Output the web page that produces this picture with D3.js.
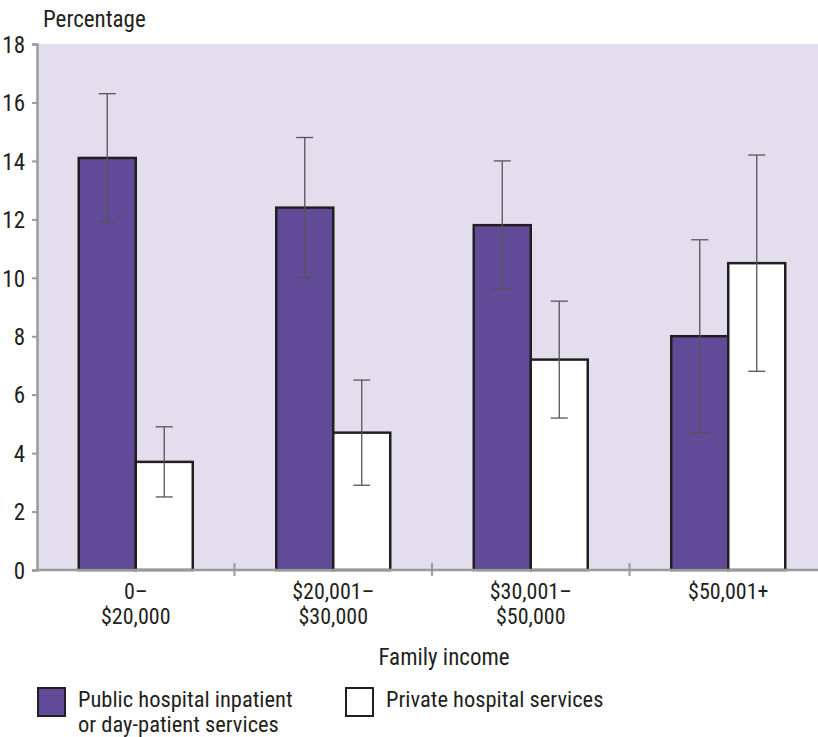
<!DOCTYPE html>
<html><head><meta charset="utf-8">
<script src="https://cdn.jsdelivr.net/npm/d3@7"></script>
<style>
body{margin:0;background:#fff;}
text{font-family:"Liberation Sans Narrow","Roboto Condensed","Arial Narrow",sans-serif;fill:#231f20;}
</style></head><body>
<svg id="c" width="818" height="737"></svg>
<script>
const categories = ["0–|$20,000", "$20,001–|$30,000", "$30,001–|$50,000", "$50,001+"];
const seriesNames = ["Public hospital inpatient|or day-patient services", "Private hospital services"];
const publicVals = [14.1, 12.4, 11.8, 8.0];
const publicLow  = [11.9, 10.0, 9.6, 4.7];
const publicHigh = [16.3, 14.8, 14.0, 11.3];
const privateVals = [3.7, 4.7, 7.2, 10.5];
const privateLow  = [2.5, 2.9, 5.2, 6.8];
const privateHigh = [4.9, 6.5, 9.2, 14.2];
const yTicks = [0, 2, 4, 6, 8, 10, 12, 14, 16, 18];

const svg = d3.select("#c");
const x = d3.scaleBand().domain(categories).range([37, 827]).paddingInner(0).paddingOuter(0);
const y = d3.scaleLinear().domain([0, 18]).range([570, 44]);
const barW = 57;
const colors = ["#614a97", "#ffffff"];

svg.append("rect").attr("x", 37).attr("y", 44).attr("width", 818 - 37).attr("height", 570 - 44).attr("fill", "#e2deed");

const series = [
  {vals: publicVals, lo: publicLow, hi: publicHigh},
  {vals: privateVals, lo: privateLow, hi: privateHigh}
];

series.forEach((s, si) => {
  const g = svg.append("g");
  categories.forEach((c, i) => {
    const cx = x(c) + x.bandwidth() / 2;
    const bx = cx + (si === 0 ? -barW : 0);
    g.append("rect").attr("x", bx).attr("y", y(s.vals[i])).attr("width", barW).attr("height", y(0) - y(s.vals[i]))
      .attr("fill", colors[si]).attr("stroke", "#231f20").attr("stroke-width", 2.5);
  });
});
series.forEach((s, si) => {
  categories.forEach((c, i) => {
    const cx = x(c) + x.bandwidth() / 2;
    const ex = cx + (si === 0 ? -barW / 2 : barW / 2);
    const g = svg.append("g").attr("stroke", "#555").attr("stroke-width", 1.3);
    g.append("line").attr("x1", ex).attr("x2", ex).attr("y1", y(s.lo[i])).attr("y2", y(s.hi[i]));
    g.append("line").attr("x1", ex - 8.5).attr("x2", ex + 8.5).attr("y1", y(s.lo[i])).attr("y2", y(s.lo[i]));
    g.append("line").attr("x1", ex - 8.5).attr("x2", ex + 8.5).attr("y1", y(s.hi[i])).attr("y2", y(s.hi[i]));
  });
});

// Y axis
const yAxis = svg.append("g").attr("transform", "translate(37,0)")
  .call(d3.axisLeft(y).tickValues(yTicks).tickSize(5).tickPadding(7));
yAxis.select(".domain").attr("stroke", "#9a9a9a").attr("stroke-width", 2.5);
yAxis.selectAll(".tick line").attr("stroke", "#9a9a9a").attr("stroke-width", 2);
yAxis.selectAll(".tick text").style("font-size", "23px").attr("fill", "#231f20").attr("dy", "0.36em");

// X axis line
svg.append("line").attr("x1", 37).attr("x2", 818).attr("y1", 570).attr("y2", 570).attr("stroke", "#9a9a9a").attr("stroke-width", 2.5);
categories.slice(1).forEach(c => {
  svg.append("line").attr("x1", x(c)).attr("x2", x(c)).attr("y1", 563).attr("y2", 576).attr("stroke", "#9a9a9a").attr("stroke-width", 2);
});
categories.forEach(c => {
  const cx = x(c) + x.bandwidth() / 2;
  c.split("|").forEach((ln, k) => svg.append("text").attr("text-anchor", "middle").style("font-size", "22px")
    .attr("x", cx).attr("y", 599 + k * 25).text(ln));
});

svg.append("text").attr("x", 43).attr("y", 27).style("font-size", "23px").text("Percentage");
svg.append("text").attr("x", 444).attr("y", 665).attr("text-anchor", "middle").style("font-size", "23px").text("Family income");

// Legend
const legX = [37, 345];
seriesNames.forEach((n, i) => {
  svg.append("rect").attr("x", legX[i] + 1).attr("y", 688).attr("width", 27).attr("height", 28)
    .attr("fill", colors[i]).attr("stroke", "#231f20").attr("stroke-width", 2);
  n.split("|").forEach((ln, k) => svg.append("text").style("font-size", "22.5px")
    .attr("x", legX[i] + 41).attr("y", 707 + k * 25).text(ln));
});
</script>
</body></html>
